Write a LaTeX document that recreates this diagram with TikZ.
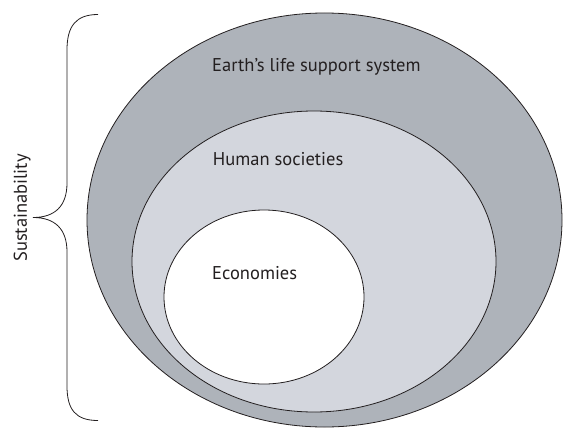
\documentclass[tikz,border=0pt]{standalone}
\usepackage{fontspec}
\setmainfont{PT Sans}
\usepackage{tikz}
\usetikzlibrary{positioning}
\definecolor{earthcol}{RGB}{174,179,186}
\definecolor{humancol}{RGB}{211,214,221}
\definecolor{inkcol}{RGB}{35,31,32}

\begin{document}
\begin{tikzpicture}[x=1pt, y=-1pt,
    ring/.style={draw=inkcol, line width=0.8pt},
    lbl/.style={font=\fontsize{18.5}{20}\selectfont, text=inkcol, inner sep=0pt, anchor=base west},
]
\useasboundingbox (0,0) rectangle (575,436);
\filldraw[ring, fill=earthcol] (324.5,220) ellipse [x radius=237.5, y radius=207];
\filldraw[ring, fill=humancol] (314,261.5) ellipse [x radius=182, y radius=150.5];
\filldraw[ring, fill=white]    (264,297) ellipse [x radius=100, y radius=87];
\node[lbl] (earth) at (212,71) {Earth’s life support system};
\node[lbl] (human) at (212.7,165.7) {Human societies};
\node[lbl] (econ)  at (212,279.3) {Economies};

\draw[draw=inkcol, line width=0.8pt] (98,14.5) .. controls (76,14.5) and (67,26) .. (67,50)
    -- (67,183) .. controls (67,206) and (55,217.5) .. (33,217.5)
    .. controls (55,217.5) and (67,229) .. (67,252)
    -- (67,386) .. controls (67,410) and (76,420.5) .. (98,420.5);
\node[lbl, anchor=base, rotate=90] (sust) at (27,208) {Sustainability};
\end{tikzpicture}
\end{document}
